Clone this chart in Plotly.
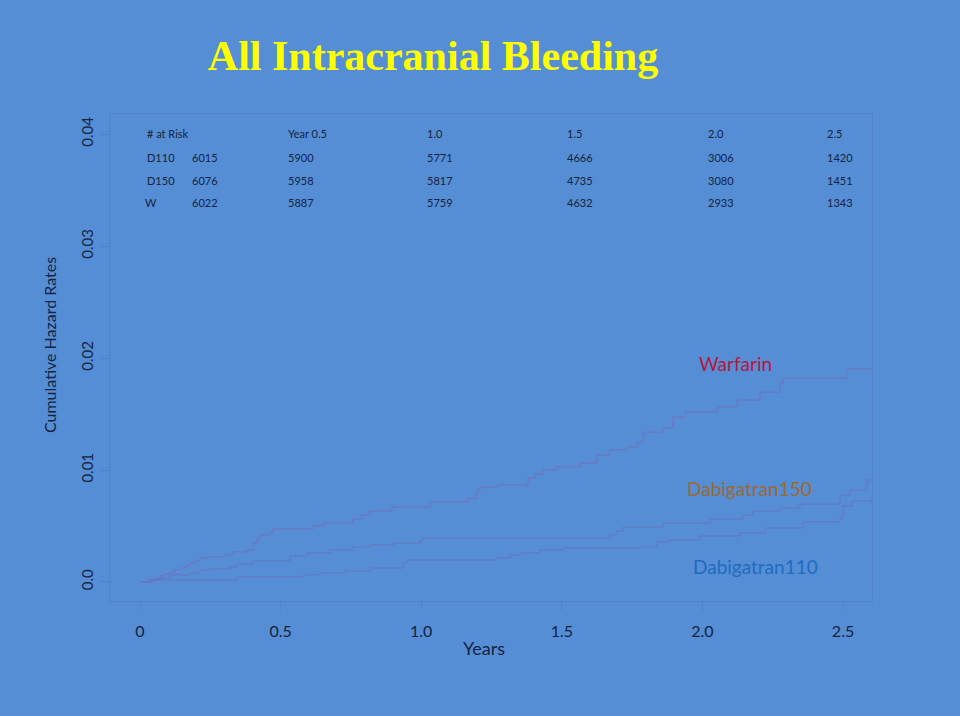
import plotly.graph_objects as go

# ---------------- data ----------------
warfarin_t = [0.0, 0.036, 0.053, 0.071, 0.089, 0.107, 0.124, 0.142, 0.160, 0.178, 0.196, 0.213,
              0.238, 0.302, 0.331, 0.381, 0.402, 0.416, 0.427, 0.462, 0.473, 0.615, 0.651, 0.757,
              0.789, 0.818, 0.896, 1.031, 1.163, 1.198, 1.209, 1.270, 1.380, 1.405, 1.433, 1.483,
              1.565, 1.625, 1.671, 1.732, 1.767, 1.789, 1.860, 1.895, 1.938, 2.052, 2.123, 2.205,
              2.276, 2.287, 2.514, 2.603]
warfarin_h = [0.0, 0.00018, 0.00036, 0.00054, 0.00071, 0.00089, 0.00107, 0.00125, 0.00143, 0.00170,
              0.00188, 0.00214, 0.00223, 0.00241, 0.00268, 0.00286, 0.00348, 0.00384, 0.00420,
              0.00446, 0.00473, 0.00500, 0.00527, 0.00563, 0.00598, 0.00634, 0.00670, 0.00714,
              0.00750, 0.00821, 0.00848, 0.00866, 0.00929, 0.00964, 0.01000, 0.01027, 0.01063,
              0.01134, 0.01179, 0.01205, 0.01250, 0.01339, 0.01375, 0.01473, 0.01518, 0.01563,
              0.01625, 0.01696, 0.01777, 0.01821, 0.01902, 0.01902]

d150_t = [0.0, 0.036, 0.071, 0.107, 0.178, 0.213, 0.249, 0.320, 0.345, 0.402, 0.533, 0.594, 0.676,
          0.757, 0.818, 0.900, 0.996, 1.006, 1.671, 1.696, 1.718, 1.860, 2.027, 2.144, 2.180,
          2.276, 2.347, 2.489, 2.525, 2.585, 2.603]
d150_h = [0.0, 0.00018, 0.00036, 0.00063, 0.00080, 0.00107, 0.00116, 0.00134, 0.00161, 0.00188,
          0.00232, 0.00259, 0.00286, 0.00313, 0.00330, 0.00348, 0.00375, 0.00393, 0.00420,
          0.00455, 0.00491, 0.00527, 0.00563, 0.00598, 0.00634, 0.00661, 0.00696, 0.00777,
          0.00821, 0.00911, 0.00911]

d110_t = [0.0, 0.046, 0.345, 0.580, 0.640, 0.729, 0.818, 0.935, 0.950, 1.270, 1.316, 1.351, 1.422,
          1.504, 1.778, 1.839, 1.885, 1.991, 2.134, 2.223, 2.358, 2.489, 2.500, 2.532, 2.603]
d110_h = [0.0, 0.00018, 0.00045, 0.00063, 0.00080, 0.00098, 0.00125, 0.00170, 0.00196, 0.00214,
          0.00241, 0.00259, 0.00286, 0.00304, 0.00313, 0.00357, 0.00375, 0.00411, 0.00438,
          0.00482, 0.00536, 0.00571, 0.00679, 0.00723, 0.00759]

x_tick_vals = [0, 0.5, 1.0, 1.5, 2.0, 2.5]
x_tick_text = ["0", "0.5", "1.0", "1.5", "2.0", "2.5"]
y_tick_vals = [0.0, 0.01, 0.02, 0.03, 0.04]
y_tick_text = ["0.0", "0.01", "0.02", "0.03", "0.04"]

risk_header = ["# at Risk", "", "Year 0.5", "1.0", "1.5", "2.0", "2.5"]
risk_d110 = ["D110", "6015", "5900", "5771", "4666", "3006", "1420"]
risk_d150 = ["D150", "6076", "5958", "5817", "4735", "3080", "1451"]
risk_w = ["W", "6022", "5887", "5759", "4632", "2933", "1343"]

# ---------------- layout constants ----------------
BG = "#558ED5"
INK = "#14233f"
LINE = "#6a74bf"
X_RANGE = [-0.1067, 2.603]
Y_RANGE = [-0.0017, 0.0418]

risk_col_x = [0.018, 0.178, 0.52, 1.013, 1.51, 2.012, 2.435]
risk_row_y = [0.0401, 0.0379, 0.0359, 0.0339]

fig = go.Figure()
for t, h, c in [(warfarin_t, warfarin_h, "#7471bb"),
                (d150_t, d150_h, LINE),
                (d110_t, d110_h, LINE)]:
    fig.add_trace(go.Scatter(x=t, y=h, mode="lines", line=dict(shape="hv", color=c, width=1),
                             showlegend=False, hoverinfo="skip"))

annotations = []
rows = [risk_header, risk_d110, risk_d150, risk_w]
for r, row in enumerate(rows):
    for c, txt in enumerate(row):
        if not txt:
            continue
        x = risk_col_x[c]
        if r == 3 and c == 0:
            x -= 0.007
        annotations.append(dict(x=x, y=risk_row_y[r], xref="x", yref="y", text=txt,
                                showarrow=False, xanchor="left", yanchor="middle",
                                font=dict(family="Lato", size=11, color=INK)))

annotations += [
    dict(x=2.116, y=0.01955, xref="x", yref="y", text="Warfarin", showarrow=False,
         xanchor="center", yanchor="middle",
         font=dict(family="Lato", size=19, color="#b8173c")),
    dict(x=2.166, y=0.00839, xref="x", yref="y", text="Dabigatran150", showarrow=False,
         xanchor="center", yanchor="middle",
         font=dict(family="Lato", size=19, color="#9a6a34")),
    dict(x=2.19, y=0.00134, xref="x", yref="y", text="Dabigatran110", showarrow=False,
         xanchor="center", yanchor="middle",
         font=dict(family="Lato", size=19, color="#1f6cc0")),
    dict(x=-0.0787, y=0.5257, xref="paper", yref="paper", text="Cumulative Hazard Rates",
         showarrow=False, textangle=-90, xanchor="center", yanchor="middle",
         font=dict(family="Lato", size=16, color=INK)),
    dict(x=0.4908, y=-0.0965, xref="paper", yref="paper", text="Years",
         showarrow=False, xanchor="center", yanchor="middle",
         font=dict(family="Lato", size=18, color=INK)),
]

axis_common = dict(showgrid=False, zeroline=False, showline=True, mirror=True,
                   linecolor="#4f82c6", linewidth=1, ticks="outside", ticklen=8,
                   tickcolor="#4f82c6")

fig.update_layout(
    width=960, height=716,
    paper_bgcolor=BG, plot_bgcolor=BG,
    margin=dict(l=110, r=88, t=114, b=115),
    title=dict(text="<b>All Intracranial Bleeding</b>", x=433 / 960, y=1 - 55 / 716,
               xanchor="center", yanchor="middle", xref="container", yref="container",
               font=dict(family="Liberation Serif", size=42, color="#ffff00")),
    xaxis=dict(range=X_RANGE, tickvals=x_tick_vals, ticktext=x_tick_text,
               ticklabelstandoff=8, tickfont=dict(family="Lato", size=16, color=INK),
               **axis_common),
    yaxis=dict(range=Y_RANGE, tickvals=y_tick_vals, ticktext=y_tick_text, tickangle=-90,
               ticklabelstandoff=2, tickfont=dict(family="Lato", size=15, color=INK),
               **axis_common),
    annotations=annotations,
)

fig.write_html("out.html", config={"displayModeBar": False},
               post_script="document.body.style.margin='0px';"
                           "document.body.style.background='#558ED5';")
